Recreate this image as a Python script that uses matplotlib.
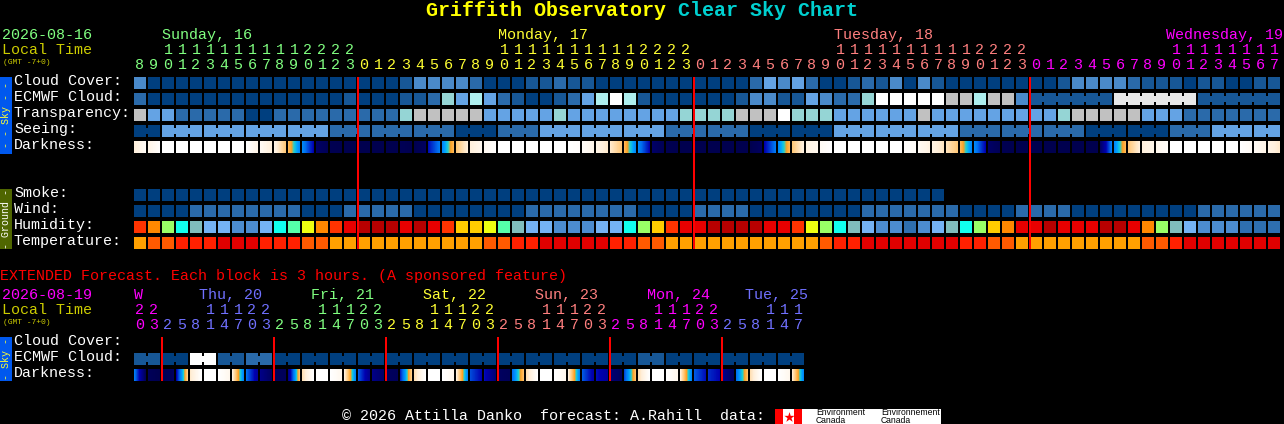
import numpy as np
import matplotlib
matplotlib.use("Agg")
import matplotlib.pyplot as plt
from matplotlib.colors import LinearSegmentedColormap
from matplotlib.patches import Rectangle

# forecast hours, main chart then extended chart
hours = [8, 9, 10, 11, 12, 13, 14, 15, 16, 17, 18, 19, 20, 21, 22, 23,
         0, 1, 2, 3, 4, 5, 6, 7, 8, 9, 10, 11, 12, 13, 14, 15, 16, 17, 18, 19, 20, 21, 22, 23,
         0, 1, 2, 3, 4, 5, 6, 7, 8, 9, 10, 11, 12, 13, 14, 15, 16, 17, 18, 19, 20, 21, 22, 23,
         0, 1, 2, 3, 4, 5, 6, 7, 8, 9, 10, 11, 12, 13, 14, 15, 16, 17]
ext_hours = [20, 23,
             2, 5, 8, 11, 14, 17, 20, 23,
             2, 5, 8, 11, 14, 17, 20, 23,
             2, 5, 8, 11, 14, 17, 20, 23,
             2, 5, 8, 11, 14, 17, 20, 23,
             2, 5, 8, 11, 14, 17, 20, 23,
             2, 5, 8, 11, 14, 17]

day_names = ["Sunday, 16", "Monday, 17", "Tuesday, 18", "Wednesday, 19"]
day_x = [162, 498, 834, 1166]
ext_day_names = ["W", "Thu, 20", "Fri, 21", "Sat, 22", "Sun, 23", "Mon, 24", "Tue, 25"]
ext_day_x = [134, 199, 311, 423, 535, 647, 745]
day_colors = ["#80FF80", "#FFFF33", "#FF7F7F", "#FF00FF"]
ext_day_colors = ["#FF00FF", "#7070FF", "#80FF80", "#FFFF33", "#FF7F7F", "#FF00FF", "#7070FF"]

# sky levels index into sky_colors
sky_colors = ["#003F7F", "#175796", "#2A6AAA", "#4A8ACA", "#64A3E4",
              "#95D5D5", "#AEEEEE", "#C1C1C1", "#FFFFFF", "#E8E8E8"]
cloud = [3, 0, 0, 0, 0, 0, 0, 0, 0, 0, 0, 0, 0, 0, 0, 0, 0, 0, 0, 1, 3,
         3, 3, 3, 2, 0, 0, 0, 1, 1, 2, 1, 1, 0, 0, 0, 0, 0, 0, 0, 0, 0, 0, 0, 2, 4, 3, 4, 2, 0, 0, 1,
         2, 1, 3, 0, 3, 1, 0, 0, 0, 0, 0, 0, 0, 0, 1, 3, 3, 3, 3, 2, 1, 1, 1, 0, 1, 1, 0, 0, 1, 1]
ecmwf = [2, 0, 0, 0, 0, 0, 0, 0, 0, 0, 0, 0, 0, 0, 0, 1, 0, 0, 0, 1, 1,
         2, 5, 4, 6, 4, 2, 1, 0, 0, 1, 2, 4, 6, 8, 6, 1, 0, 0, 0, 0, 0, 0, 1, 3, 3, 1, 1, 4, 3, 2, 2,
         5, 8, 8, 8, 8, 8, 7, 7, 6, 7, 7, 3,
         1, 1, 1, 1, 1, 1, 9, 9, 9, 9, 9, 9, 1, 1, 1, 1, 1, 1]
ecmwf_spans = [1] * 64 + [6, 6, 6]
transparency = [7, 4, 4, 2, 2, 2, 2, 2, 0, 0, 2, 2, 2, 2, 2, 2, 2, 2, 2, 5, 7,
                7, 7, 7, 7, 4, 4, 4, 4, 4, 5, 4, 4, 4, 4, 4, 4, 4, 4, 5, 5, 5, 5, 7, 7, 7, 8, 5, 5, 5, 4, 4,
                4, 4, 4, 4, 7, 4, 4, 4, 4, 4, 4, 4, 4, 4, 5, 7, 7, 7, 7, 7, 4, 4, 4, 2, 2, 2, 2, 2, 2, 2]
seeing = [0, 0, 4, 4, 4, 4, 4, 4, 4, 4, 4, 4, 4, 4, 2, 2, 2, 2, 2, 2, 2,
          2, 2, 0, 0, 0, 2, 2, 2, 4, 4, 4, 4, 4, 4, 4, 4, 4, 2, 2, 2, 2, 2, 2, 0, 0, 0, 0, 0, 0, 4, 4,
          4, 4, 4, 4, 4, 4, 4, 2, 2, 2, 2, 2, 2, 2, 2, 2, 0, 0, 0, 0, 0, 0, 2, 2, 2, 4, 4, 4, 4, 4]
seeing_spans = [2] + [3] * 26 + [2]
smoke = [0, 0, 0, 0, 0, 0, 0, 0, 0, 0, 0, 0, 0, 0, 0, 0, 0, 0, 0, 0, 0, 0, 0, 0, 0, 0, 0, 0, 0,
         0, 0, 0, 0, 0, 0, 0, 0, 0, 0, 0, 0, 0, 0, 0, 0, 0, 0, 0, 0, 0, 0, 0, 0, 0, 0, 0, 0, 0]
wind = [0, 0, 0, 0, 2, 2, 2, 2, 2, 2, 2, 2, 0, 0, 0, 2, 2, 2, 2, 2, 0,
        0, 0, 0, 0, 0, 0, 0, 2, 2, 2, 2, 2, 2, 2, 2, 0, 0, 0, 0, 2, 2, 2, 2, 0, 0, 0, 0, 0, 0, 0, 0,
        2, 2, 2, 2, 2, 2, 2, 0, 0, 0, 0, 2, 2, 2, 2, 0, 0, 0, 0, 0, 0, 0, 0, 0, 2, 2, 2, 2, 2, 2]

humidity_colors = ["#2E6FB0", "#4C8CD0", "#74B2F4", "#80BDBD", "#11FFEE", "#55FFAA", "#99FF66",
                   "#EEFF11", "#FFCC00", "#FF8800", "#FF3300", "#E80000", "#B80000"]
humidity = [10, 9, 6, 4, 3, 2, 2, 1, 1, 2, 4, 5, 7, 9, 10, 11, 12, 12, 12, 11, 12,
            11, 10, 8, 8, 7, 5, 3, 2, 2, 1, 1, 1, 2, 2, 4, 6, 8, 10, 11, 11, 12, 12, 12, 12, 11, 11, 10, 7, 6, 4, 3,
            2, 1, 1, 0, 1, 2, 3, 4, 6, 8, 9, 11, 11, 12, 11, 11, 11, 12, 12, 11, 9, 6, 3, 2, 1, 1, 1, 0, 0, 0]
temp_colors = ["#E00000", "#FF2000", "#FF5A00", "#FFA000"]
temperature = [3, 2, 2, 1, 1, 1, 0, 0, 0, 1, 1, 1, 2, 2, 3, 3, 3, 3, 3, 3, 3,
               3, 3, 3, 3, 2, 2, 1, 1, 0, 0, 0, 0, 0, 1, 1, 2, 2, 3, 3, 3, 3, 3, 3, 3, 3, 3, 3, 3, 2, 1, 1,
               0, 0, 0, 0, 0, 0, 0, 1, 1, 2, 2, 3, 3, 3, 3, 3, 3, 3, 3, 3, 2, 2, 1, 0, 0, 0, 0, 0, 0, 0]

# darkness at left and right edge of each block, 0 = night, 1 = full day
dark_left = [.90, .93, 1, 1, 1, 1, 1, 1, 1, .97, .93, .74, .50, .12, .06, .05, .05, .05, .05, .07, .05,
             .32, .50, .78, .90, .96, 1, 1, 1, 1, 1, 1, .98, .93, .88, .74, .50, .12, .06, .05, .05, .05, .05, .05, .05,
             .30, .50, .78, .92, .97, 1, 1,
             1, 1, 1, .99, .97, .92, .86, .74, .50, .12, .06, .05, .05, .05, .05, .05, .05, .12,
             .50, .78, .90, .95, 1, 1, 1, 1, 1, 1, .97, .93]
dark_right = [.97, .99, 1, 1, 1, 1, 1, 1, .93, .90, .78, .50, .30, .07, .05, .05, .05, .05, .05, .05, .10,
              .47, .74, .90, .95, .99, 1, 1, 1, 1, 1, .99, .94, .88, .78, .50, .30, .07, .05, .05, .05, .05, .05, .05, .10,
              .47, .74, .91, .95, 1, 1, 1,
              1, 1, 1, .98, .92, .87, .78, .50, .30, .07, .05, .05, .05, .05, .05, .05, .05, .48,
              .74, .90, .94, .98, 1, 1, 1, 1, 1, .97, .93, .88]

ext_ecmwf = [1, 1, 0, 0, 8, 8, 1, 1, 2, 2,
             0, 0, 0, 0, 0, 0, 0, 0, 0, 0, 0, 0, 0, 0, 0, 0, 0, 0, 0, 0, 0, 0, 0, 0, 0, 0,
             1, 1, 0, 0, 0, 0, 0, 0, 0, 0, 0, 0]
ext_spans = [2] * 24
ext_dark_left = [.48, .08, .06, .30, .88, 1, 1, .90, .45, .20, .08, .20, .85, 1, 1, .90,
                 .42, .20, .10, .35, .85, 1, 1, .90, .40, .32, .10, .45, .85, 1, 1, .90,
                 .42, .32, .15, .40, .85, 1, 1, .90, .42, .36, .22, .45, .85, 1, 1, .88]
ext_dark_right = [.08, .05, .10, .80, 1, 1, .95, .50, .25, .10, .08, .76, 1, 1, .95, .50,
                  .22, .12, .08, .80, 1, 1, .95, .50, .30, .15, .08, .76, 1, 1, .95, .50,
                  .28, .25, .10, .76, 1, 1, .95, .50, .32, .30, .10, .76, 1, 1, .95, .50]

dark_cmap = LinearSegmentedColormap.from_list("darkness", [
    (0.00, "#000040"), (0.10, "#000060"), (0.30, "#0000B0"), (0.45, "#0070F0"),
    (0.55, "#00A0FF"), (0.62, "#20D0D0"), (0.68, "#FFA020"), (0.78, "#FFC878"),
    (0.90, "#FFF0DC"), (1.00, "#FFFFFF")])

MONO = "Liberation Mono"
X0 = 134
PITCH = 14
CELL = 12

fig = plt.figure(figsize=(12.84, 4.24), dpi=100, facecolor="black")
ax = fig.add_axes([0, 0, 1, 1])
ax.set_facecolor("black")
ax.axis("off")


def rect(x, y, w, h, color, z=2):
    ax.add_patch(Rectangle((x, y), w, h, facecolor=color, edgecolor="none", antialiased=True, zorder=z))


def label(x, y, s, color="white", size=10.8, **kw):
    kw.setdefault("family", MONO)
    kw.setdefault("ha", "left")
    ax.text(x, y, s, color=color, fontsize=size, va="center", **kw)


def blocks(levels, colors, y, spans=None):
    for i, lev in enumerate(levels):
        rect(X0 + i * PITCH, y, CELL, CELL, colors[lev])
    if spans:
        start = 0
        for n in spans:
            for i in range(start, start + n - 1):
                rect(X0 + i * PITCH + CELL, y + 3, PITCH - CELL, 6, colors[levels[i]])
            start += n


def dark_blocks(left, right, y):
    for i in range(len(left)):
        x = X0 + i * PITCH
        ax.imshow(np.linspace(left[i], right[i], CELL).reshape(1, -1), extent=(x, x + CELL, y + CELL, y),
                  cmap=dark_cmap, vmin=0, vmax=1, aspect="auto", interpolation="nearest", zorder=2)


def hour_digits(hrs, colors, y_tens, y_ones):
    day = 0
    for i, h in enumerate(hrs):
        if i > 0 and h < hrs[i - 1]:
            day += 1
        x = X0 + i * PITCH + 6
        if h >= 10:
            label(x, y_tens, str(h // 10), colors[day], ha="center")
        label(x, y_ones, str(h % 10), colors[day], ha="center")


def midnight_lines(hrs, y0, y1):
    for i in range(1, len(hrs)):
        if hrs[i] < hrs[i - 1]:
            rect(X0 + i * PITCH - 1, y0, 2, y1 - y0, "#FF0000", z=4)


# title
label(426, 11, "Griffith Observatory", "#FFFF00", 14.4, weight="bold")
label(678, 11, "Clear Sky Chart", "#00D0D0", 14.4, weight="bold")

# main chart header
label(2, 35, "2026-08-16", "#80FF80")
label(2, 50, "Local Time", "#CCCC00")
label(3, 62, "(GMT -7+0)", "#CCCC00", 5.8)
for name, x, col in zip(day_names, day_x, day_colors):
    label(x, 35, name, col)
hour_digits(hours, day_colors, 50, 65)

# main chart rows
for y, s in zip([81, 97, 113, 129, 145, 193, 209, 225, 241],
                ["Cloud Cover:", "ECMWF Cloud:", "Transparency:", "Seeing:", "Darkness:",
                 "Smoke:", "Wind:", "Humidity:", "Temperature:"]):
    label(14, y, s)
blocks(cloud, sky_colors, 77)
blocks(ecmwf, sky_colors, 93, ecmwf_spans)
blocks(transparency, sky_colors, 109)
blocks(seeing, sky_colors, 125, seeing_spans)
dark_blocks(dark_left, dark_right, 141)
blocks(smoke, sky_colors, 189)
blocks(wind, sky_colors, 205)
blocks(humidity, humidity_colors, 221)
blocks(temperature, temp_colors, 237)
midnight_lines(hours, 77, 249)

# side bars
rect(0, 77, 12, 77, "#0058EE")
label(6, 115.5, "- - Sky - -", "#FFFF33", 7.2, rotation=90, ha="center")
rect(0, 189, 12, 60, "#4F6600")
label(6, 219, "- Ground -", "white", 7.2, rotation=90, ha="center")
rect(0, 337, 12, 44, "#0058EE")
label(6, 359, "- Sky -", "#FFFF33", 7.2, rotation=90, ha="center")

# extended forecast
label(0, 276, "EXTENDED Forecast. Each block is 3 hours. (A sponsored feature)", "#FF0000")
label(2, 295, "2026-08-19", "#FF00FF")
label(2, 310, "Local Time", "#CCCC00")
label(3, 322, "(GMT -7+0)", "#CCCC00", 5.8)
for name, x, col in zip(ext_day_names, ext_day_x, ext_day_colors):
    label(x, 295, name, col)
hour_digits(ext_hours, ext_day_colors, 310, 325)
for y, s in zip([341, 357, 373], ["Cloud Cover:", "ECMWF Cloud:", "Darkness:"]):
    label(14, y, s)
blocks(ext_ecmwf, sky_colors, 353, ext_spans)
dark_blocks(ext_dark_left, ext_dark_right, 369)
midnight_lines(ext_hours, 337, 381)

# footer and logos
label(342, 416, "\u00a9 2026 Attilla Danko  forecast: A.Rahill  data:")
rect(775, 409, 166, 15, "white")
rect(775, 409, 8, 15, "#FF0000", z=3)
rect(794, 409, 8, 15, "#FF0000", z=3)
ax.scatter([788.5], [416.5], marker="*", s=60, color="#FF0000", linewidths=0, zorder=3)
for x, s in zip([816, 881], ["Environment\nCanada", "Environnement\nCanada"]):
    ax.text(x, 416.5, s, color="black", fontsize=6.2, family="Liberation Sans", va="center", ha="left",
            linespacing=0.9, zorder=3)

ax.set_xlim(0, 1284)
ax.set_ylim(424, 0)
fig.savefig("out.png", dpi=100, facecolor="black")
